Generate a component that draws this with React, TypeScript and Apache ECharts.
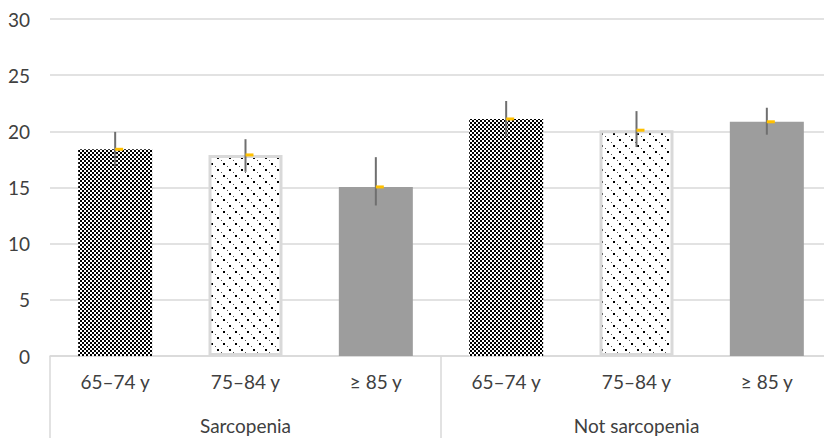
import React, { useEffect, useRef } from "react";
import * as echarts from "echarts";

const categories = ["65–74 y", "75–84 y", "≥ 85 y", "65–74 y", "75–84 y", "≥ 85 y"];
const groups = ["Sarcopenia", "Not sarcopenia"];
const means = [18.4, 17.9, 15.05, 21.1, 20.1, 20.85];
const errLow = [16.85, 16.4, 13.4, 19.5, 18.6, 19.7];
const errHigh = [19.95, 19.3, 17.7, 22.7, 21.8, 22.1];
const yTicks = [0, 5, 10, 15, 20, 25, 30];

function makeChecker() {
  const c = document.createElement("canvas");
  c.width = 4;
  c.height = 4;
  const ctx = c.getContext("2d")!;
  ctx.fillStyle = "#ffffff";
  ctx.fillRect(0, 0, 4, 4);
  ctx.fillStyle = "#000000";
  ctx.fillRect(0, 0, 2, 2);
  ctx.fillRect(2, 2, 2, 2);
  return c;
}

function makeDots() {
  const c = document.createElement("canvas");
  c.width = 12;
  c.height = 12;
  const ctx = c.getContext("2d")!;
  ctx.fillStyle = "#ffffff";
  ctx.fillRect(0, 0, 12, 12);
  ctx.fillStyle = "#000000";
  ctx.fillRect(1, 1, 2, 2);
  ctx.fillRect(7, 7, 2, 2);
  ctx.fillStyle = "#555555";
  ctx.fillRect(5, 4, 1, 1);
  ctx.fillRect(11, 10, 1, 1);
  return c;
}

export default function App() {
  const ref = useRef<HTMLDivElement>(null);
  useEffect(() => {
    if (!ref.current) return;
    const chart = echarts.init(ref.current, null, { renderer: "svg" });
    const checker = { image: makeChecker(), repeat: "repeat", imageWidth: 4, imageHeight: 4 };
    const dots = { image: makeDots(), repeat: "repeat", imageWidth: 12, imageHeight: 12 };
    const styles = [0, 1, 2, 0, 1, 2].map((k) => {
      if (k === 0) return { color: checker };
      if (k === 1) return { color: dots, borderColor: "#d9d9d9", borderWidth: 3 };
      return { color: "#9d9d9d" };
    });
    const font = "Lato, 'Liberation Sans', sans-serif";
    const textColor = "#404040";
    chart.setOption({
      animation: false,
      grid: { left: 50, right: 0, top: 19, bottom: 82, containLabel: false },
      xAxis: [
        {
          type: "category",
          data: categories,
          axisLine: { show: true, lineStyle: { color: "#d9d9d9", width: 1.5 } },
          axisTick: { show: false },
          axisLabel: { color: textColor, fontSize: 19, fontFamily: font, margin: 16, interval: 0 },
        },
        {
          type: "category",
          data: groups,
          position: "bottom",
          axisLine: { show: false },
          axisTick: { show: true, length: 82, lineStyle: { color: "#d9d9d9", width: 1.5 } },
          axisLabel: { color: textColor, fontSize: 19, fontFamily: font, margin: 60, interval: 0 },
        },
      ],
      yAxis: {
        type: "value",
        min: 0,
        max: 30,
        interval: 5,
        axisLine: { show: false },
        axisTick: { show: false },
        splitLine: { lineStyle: { color: "#d9d9d9", width: 1.5 } },
        axisLabel: {
          color: textColor,
          fontSize: 19,
          fontFamily: font,
          margin: 20,
          formatter: (v: number) => (yTicks.includes(v) ? String(v) : ""),
        },
      },
      series: [
        {
          type: "bar",
          xAxisIndex: 0,
          barWidth: 74,
          data: means.map((v, i) => ({ value: v, itemStyle: styles[i] })),
        },
        {
          type: "custom",
          xAxisIndex: 0,
          z: 5,
          data: means.map((v, i) => [i, errLow[i], errHigh[i], v]),
          renderItem: (params: any, api: any) => {
            const i = api.value(0);
            const lo = api.coord([i, api.value(1)]);
            const hi = api.coord([i, api.value(2)]);
            const m = api.coord([i, api.value(3)]);
            return {
              type: "group",
              children: [
                {
                  type: "line",
                  shape: { x1: lo[0], y1: lo[1], x2: hi[0], y2: hi[1] },
                  style: { stroke: "#6f6f6f", lineWidth: 2 },
                },
                {
                  type: "rect",
                  shape: { x: m[0], y: m[1] - 1.5, width: 8, height: 3 },
                  style: { fill: "#ffc000" },
                },
              ],
            };
          },
        },
      ],
    });
    return () => chart.dispose();
  }, []);
  return (
    <div
      style={{
        position: "fixed",
        left: 0,
        top: 0,
        width: 824,
        height: 438,
        overflow: "hidden",
        background: "#fff",
      }}
    >
      <div ref={ref} style={{ width: 832, height: 438 }} />
    </div>
  );
}
